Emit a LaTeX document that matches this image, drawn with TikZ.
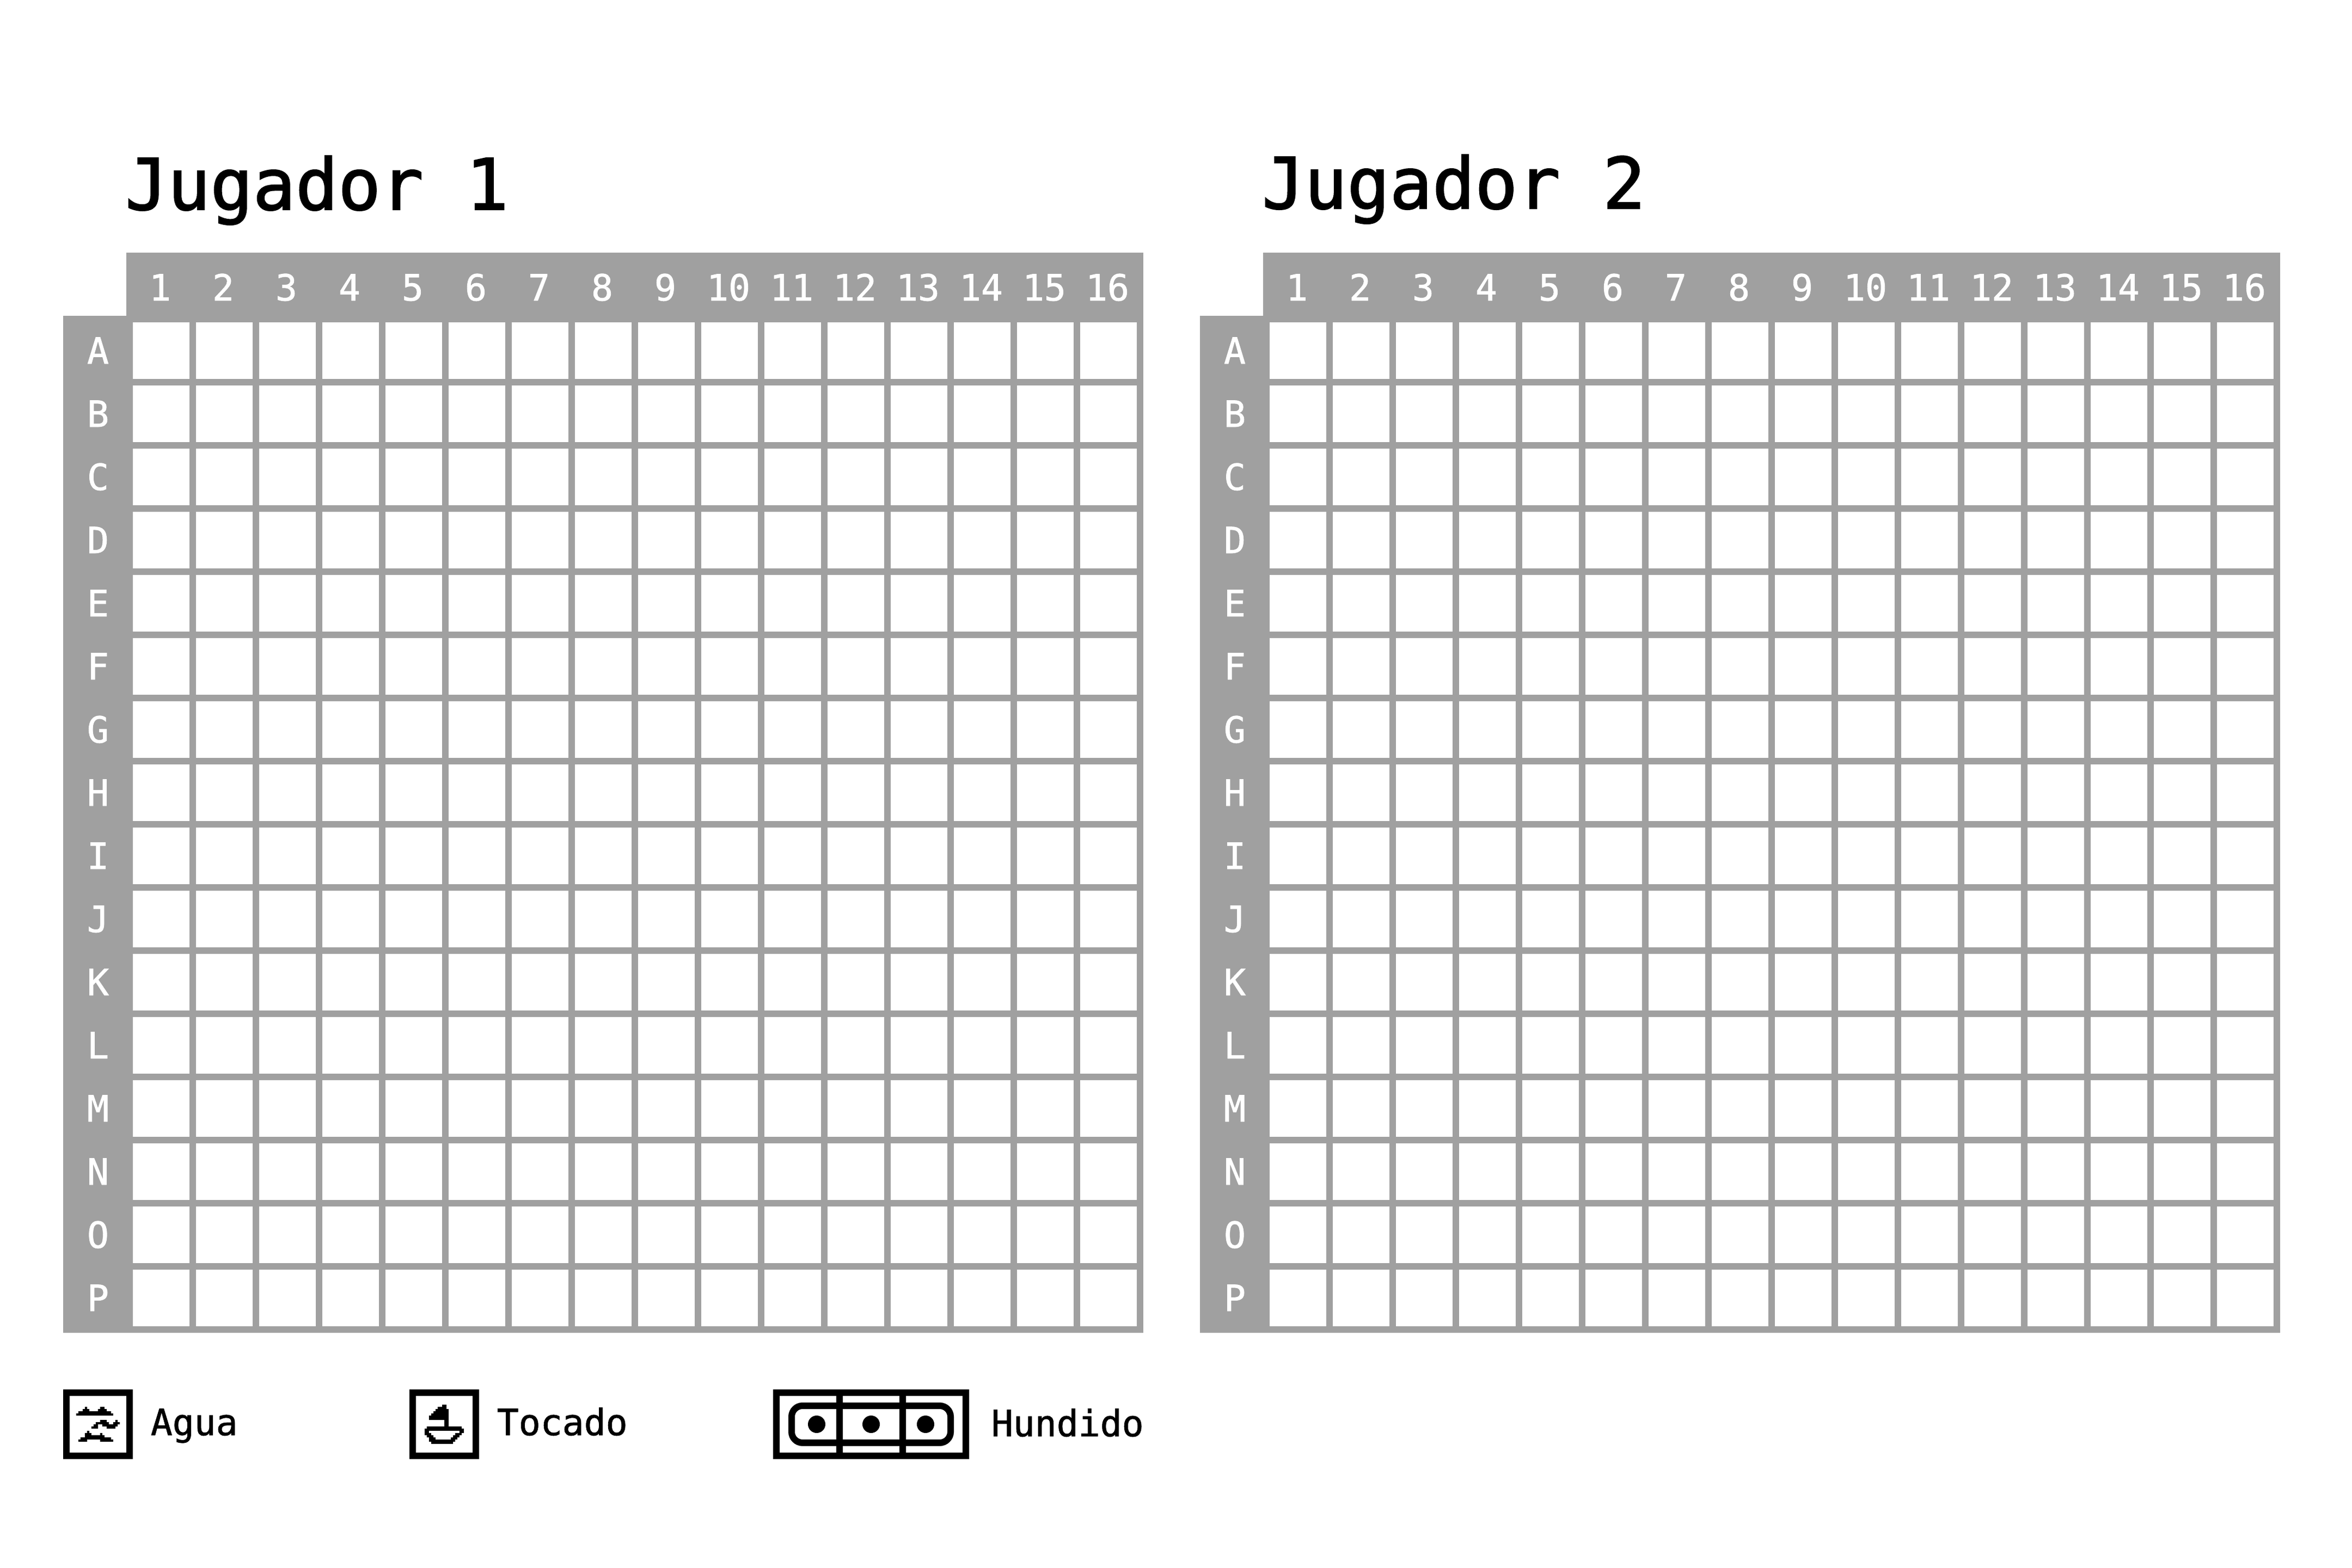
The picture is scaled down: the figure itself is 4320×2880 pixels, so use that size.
\documentclass[tikz,border=0pt]{standalone}
\usepackage{fontspec}
\newfontfamily\pixfont[FakeBold=1.2]{DejaVu Sans Mono}
\newfontfamily\pixtitle[FakeBold=1.8]{DejaVu Sans Mono}
\definecolor{boardgray}{HTML}{A0A0A0}
\tikzset{
  px/.style={x=0.25pt,y=-0.25pt},
  zoomed/.style={shift={#1},x=0.083333pt,y=-0.083333pt},
  title/.style={anchor=base west,inner sep=0pt,font=\pixtitle\fontsize{32.5}{36}\selectfont,text=black},
  small/.style={anchor=base,inner sep=0pt,font=\pixfont\fontsize{16.6}{18}\selectfont,text=white},
  legendtext/.style={anchor=base west,inner sep=0pt,font=\pixfont\fontsize{16.6}{18}\selectfont,text=black},
  iconbox/.style={draw=black,line width=3pt,fill=white},
}
\begin{document}
\begin{tikzpicture}[px]
\useasboundingbox (0,0) rectangle (4320,2880);
\fill[white] (0,0) rectangle (4320,2880);
\foreach \g/\o/\ty in {1/0/385,2/2088/383}{
  \begin{scope}[xshift=\o*0.25pt]
    \node[title] (title\g) at (229,\ty) {Jugador \g};
    \fill[boardgray] (232,464) rectangle (2100,2448);
    \fill[boardgray] (116,580) rectangle (244,2448);
    \foreach \c in {0,...,15}{
      \foreach \r in {0,...,15}{
        \fill[white] ({244+116*\c},{592+116*\r}) rectangle ++(104,104);
      }
      \pgfmathtruncatemacro{\n}{\c+1}
      \node[small] (col\g-\n) at ({296+116*\c-2},552) {\n};
    }
    \foreach \l [count=\i from 0] in {A,B,C,D,E,F,G,H,I,J,K,L,M,N,O,P}{
      \node[small] (row\g-\l) at (180,{668+116*\i}) {\l};
    }
  \end{scope}
}
% Agua
\draw[iconbox] (122,2558) rectangle (238,2674);
\begin{scope}[zoomed={(60,2480)}]
  \fill[black] (240,360)--(444,360)--(444,348)--(432,348)--(432,336)--(408,336)--(408,324)--(396,324)--(396,312)--(372,312)--(372,324)--(360,324)--(360,336)--(312,336)--(312,324)--(300,324)--(300,312)--(288,312)--(288,324)--(276,324)--(276,336)--(252,336)--(252,348)--(240,348)--cycle;
  \fill[black] (324,432)--(324,420)--(336,420)--(336,408)--(348,408)--(348,396)--(372,396)--(372,384)--(408,384)--(408,396)--(420,396)--(420,408)--(444,408)--(444,396)--(456,396)--(456,384)--(468,384)--(468,396)--(480,396)--(480,408)--(468,408)--(468,420)--(456,420)--(456,432)--(408,432)--(408,420)--(384,420)--(384,408)--(360,408)--(360,432)--cycle;
  \fill[black] (252,504)--(252,492)--(264,492)--(264,480)--(288,480)--(288,456)--(300,456)--(300,444)--(312,444)--(312,456)--(324,456)--(324,468)--(372,468)--(372,456)--(384,456)--(384,468)--(396,468)--(396,480)--(432,480)--(432,492)--(444,492)--(444,504)--(372,504)--(372,492)--(300,492)--(300,504)--cycle;
\end{scope}
\node[legendtext] (agua) at (276,2636) {Agua};
% Tocado
\draw[iconbox] (758,2558) rectangle (874,2674);
\begin{scope}[zoomed={(720,2500)}]
  \fill[black] (276,240)--(300,240)--(300,264)--(312,264)--(312,360)--(384,360)--(384,372)--(396,372)--(396,396)--(384,396)--(384,408)--(372,408)--(372,420)--(360,420)--(360,432)--(348,432)--(348,444)--(336,444)--(336,456)--(216,456)--(216,444)--(204,444)--(204,420)--(192,420)--(192,408)--(180,408)--(180,372)--(192,372)--(192,360)--(288,360)--(288,324)--(204,324)--(204,300)--(216,300)--(216,288)--(228,288)--(228,276)--(240,276)--(240,264)--(252,264)--(252,252)--(276,252)--cycle;
  \fill[white] (204,384)--(372,384)--(372,396)--(348,396)--(348,408)--(336,408)--(336,420)--(324,420)--(324,432)--(240,432)--(240,420)--(228,420)--(228,408)--(216,408)--(216,396)--(204,396)--cycle;
\end{scope}
\node[legendtext] (tocado) at (912,2636) {Tocado};
% Hundido
\draw[iconbox] (1426,2558) rectangle (1774,2674);
\fill[black] (1536,2552) rectangle (1548,2680);
\fill[black] (1652,2552) rectangle (1664,2680);
\draw[black,line width=3pt,rounded corners=5pt] (1454,2582) rectangle (1746,2650);
\foreach \x in {1500,1600,1700}{
  \fill[black] (\x,2616) circle[radius=16];
}
\node[legendtext] (hundido) at (1820,2638) {Hundido};
\end{tikzpicture}
\end{document}
